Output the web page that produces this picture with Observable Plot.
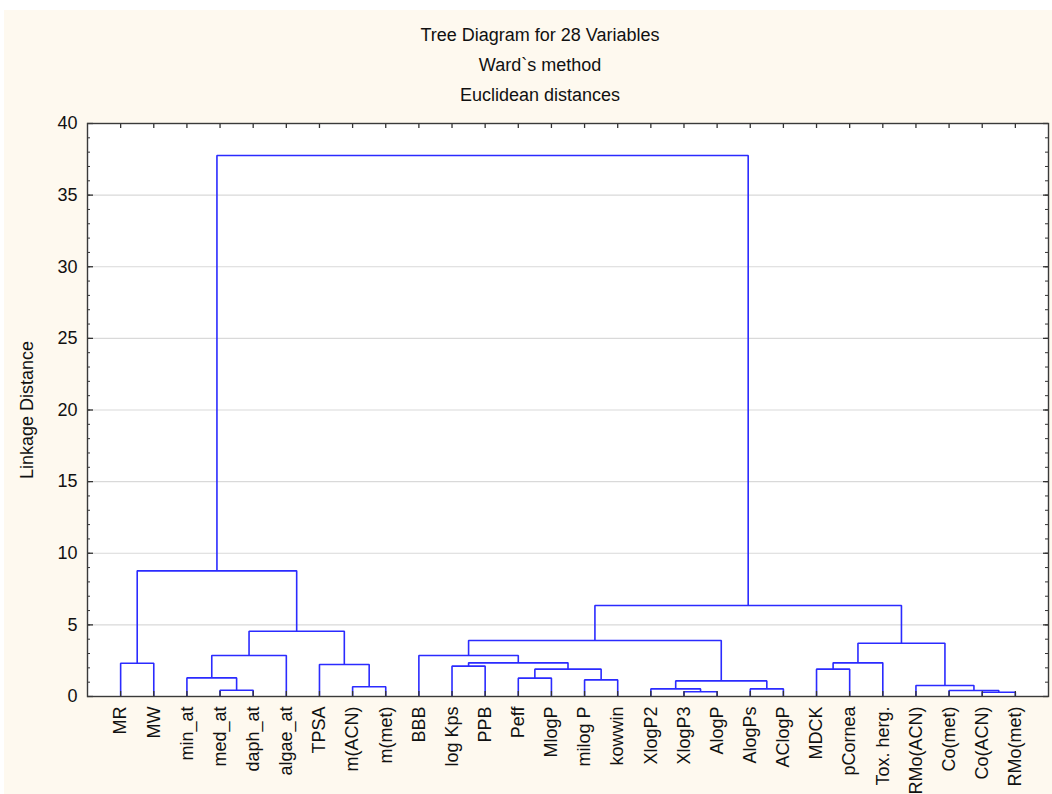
<!DOCTYPE html>
<html>
<head>
<meta charset="utf-8">
<script src="https://cdn.jsdelivr.net/npm/d3@7"></script>
<script src="https://cdn.jsdelivr.net/npm/@observablehq/plot@0.6"></script>
<style>
  html, body { margin: 0; padding: 0; background: #ffffff; }
  #panel {
    position: absolute; left: 4px; top: 10px; width: 1048px; height: 784px;
    background: #fef9ef; overflow: hidden;
    font-family: "Liberation Sans", Arial, sans-serif; color: #111111;
  }
  #titles { position: relative; height: 103px; }
  #titles div {
    position: absolute; left: 536px; transform: translateX(-50%);
    white-space: nowrap; font-size: 18px; line-height: 20px;
  }
  #chart svg { display: block; overflow: visible; }
</style>
</head>
<body>
<div id="panel">
  <div id="titles">
    <div style="top:15px">Tree Diagram for 28 Variables</div>
    <div style="top:45px">Ward`s method</div>
    <div style="top:75px">Euclidean distances</div>
  </div>
  <div id="chart"></div>
</div>
<script>
// Variables in dendrogram leaf order (left to right)
const leaves = [
  "MR", "MW", "min_at", "med_at", "daph_at", "algae_at", "TPSA", "m(ACN)", "m(met)",
  "BBB", "log Kps", "PPB", "Peff", "MlogP", "milog P", "kowwin",
  "XlogP2", "XlogP3", "AlogP", "AlogPs", "AClogP",
  "MDCK", "pCornea", "Tox. herg.", "RMo(ACN)", "Co(met)", "Co(ACN)", "RMo(met)"
];

// Ward linkage steps: [left member, right member, linkage distance].
// A number refers to the cluster formed at that (1-based) step.
const merges = [
  ["Co(ACN)", "RMo(met)", 0.30],   // 1
  ["XlogP3", "AlogP", 0.33],       // 2
  ["Co(met)", 1, 0.42],            // 3
  ["med_at", "daph_at", 0.44],     // 4
  ["XlogP2", 2, 0.53],             // 5
  ["AlogPs", "AClogP", 0.53],      // 6
  ["m(ACN)", "m(met)", 0.68],      // 7
  ["RMo(ACN)", 3, 0.77],           // 8
  [5, 6, 1.09],                    // 9
  ["milog P", "kowwin", 1.16],     // 10
  ["Peff", "MlogP", 1.28],         // 11
  ["min_at", 4, 1.30],             // 12
  [11, 10, 1.91],                  // 13
  ["MDCK", "pCornea", 1.91],       // 14
  ["log Kps", "PPB", 2.12],        // 15
  ["TPSA", 7, 2.23],               // 16
  ["MR", "MW", 2.32],              // 17
  [15, 13, 2.35],                  // 18
  [14, "Tox. herg.", 2.35],        // 19
  [12, "algae_at", 2.86],          // 20
  ["BBB", 18, 2.86],               // 21
  [19, 8, 3.72],                   // 22
  [21, 9, 3.91],                   // 23
  [20, 16, 4.56],                  // 24
  [23, 22, 6.35],                  // 25
  [17, 24, 8.77],                  // 26
  [26, 25, 37.77]                  // 27
];

const yMajor = [0, 5, 10, 15, 20, 25, 30, 35, 40];
const yGrid = [5, 10, 15, 20, 25, 30, 35];
const yMinor = d3.range(0, 41);

// Layout
const W = 1048, H = 681;
const M = {top: 10, bottom: 98, left: 83, right: 4};
const plotW = W - M.left - M.right;
const plotH = H - M.top - M.bottom;

// Node positions: leaves sit at 1..n, a cluster sits midway between its members
const pos = new Map(leaves.map((name, i) => [name, {x: i + 1, y: 0}]));
const node = (ref) => typeof ref === "number" ? pos.get("#" + ref) : pos.get(ref);
const paths = [];
merges.forEach(([a, b, h], i) => {
  const A = node(a), B = node(b);
  const id = i + 1;
  paths.push(
    {id, x: A.x, y: A.y},
    {id, x: A.x, y: h},
    {id, x: B.x, y: h},
    {id, x: B.x, y: B.y}
  );
  pos.set("#" + id, {x: (A.x + B.x) / 2, y: h});
});

const leafPos = leaves.map((_, i) => i + 1);
const tickColor = "#333333";

const chart = Plot.plot({
  width: W,
  height: H,
  marginTop: M.top,
  marginBottom: M.bottom,
  marginLeft: M.left,
  marginRight: M.right,
  x: {domain: [0, leaves.length + 1], axis: null},
  y: {domain: [0, 40], axis: null},
  style: {
    background: "transparent",
    fontFamily: "'Liberation Sans', Arial, sans-serif",
    fontSize: "18px",
    color: "#111111",
    overflow: "visible"
  },
  marks: [
    Plot.frame({fill: "white", stroke: null}),
    Plot.gridY(yGrid, {stroke: "#d9d9d9", strokeOpacity: 1, strokeWidth: 1.2}),
    Plot.line(paths, {
      x: "x", y: "y", z: "id",
      stroke: "#2b2bff", strokeWidth: 1.6,
      strokeLinejoin: "miter", strokeLinecap: "butt"
    }),
    // inward ticks on all four sides
    Plot.ruleY(yMinor, {insetRight: plotW - 3, stroke: tickColor}),
    Plot.ruleY(yMajor, {insetRight: plotW - 6, stroke: tickColor, strokeWidth: 1.3}),
    Plot.ruleY(yMinor, {insetLeft: plotW - 3, stroke: tickColor}),
    Plot.ruleY(yMajor, {insetLeft: plotW - 5, stroke: tickColor, strokeWidth: 1.3}),
    Plot.ruleX(leafPos, {insetTop: plotH - 5, stroke: tickColor, strokeWidth: 1.3}),
    Plot.ruleX(leafPos, {insetBottom: plotH - 5, stroke: tickColor, strokeWidth: 1.3}),
    Plot.frame({stroke: "#3a3a3a", strokeWidth: 1.4}),
    Plot.axisY(yMajor, {
      anchor: "left", tickSize: 0, tickPadding: 10,
      fontSize: 18, label: null
    }),
    Plot.axisX(leafPos, {
      anchor: "bottom", tickSize: 0, tickPadding: 10, tickRotate: -90,
      tickFormat: (d) => leaves[d - 1], fontSize: 18, label: null
    }),
    Plot.text(["Linkage Distance"], {
      text: (d) => d, frameAnchor: "left", textAnchor: "middle",
      dx: -60, rotate: -90, fontSize: 18
    })
  ]
});

document.getElementById("chart").appendChild(chart);
</script>
</body>
</html>
